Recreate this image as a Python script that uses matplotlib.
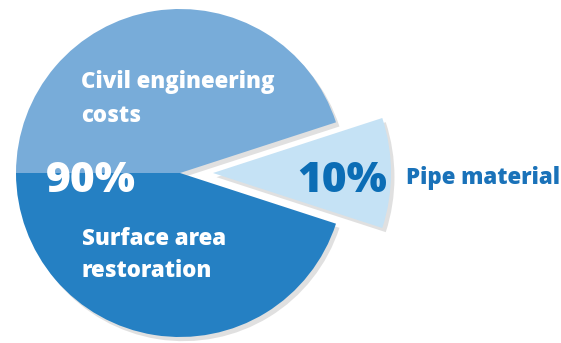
import matplotlib
matplotlib.use("Agg")
import matplotlib.pyplot as plt
import matplotlib.patheffects as pe

# ---- data ----
categories = ["Civil engineering costs", "Surface area restoration", "Pipe material"]
shares = [45, 45, 10]
main_pct_label = "90%"
pipe_pct_label = "10%"
inner_labels = ["Civil engineering\ncosts", "Surface area\nrestoration"]
pipe_label = "Pipe material"

# ---- style ----
W, H = 561, 343
colors = ["#78acd9", "#2580c3", "#c5e2f5"]
font = ["Open Sans", "DejaVu Sans"]

fig = plt.figure(figsize=(W / 100, H / 100), dpi=100)
ax = fig.add_axes([0, 0, 1, 1])
ax.set_xlim(0, W)
ax.set_ylim(0, H)
ax.axis("off")

R = 164
cx, cy = 180, H - 173
wedges, _ = ax.pie(shares, colors=colors, startangle=18, counterclock=True,
                   explode=[0, 0, 33], center=(cx, cy), radius=R,
                   wedgeprops=dict(linewidth=0))
wedges[2].set_radius(178)
for w in wedges:
    w.set_path_effects([pe.SimplePatchShadow(offset=(2.5, -3), shadow_rgbFace="#999999", alpha=0.3),
                        pe.Normal()])
ax.set_xlim(0, W)
ax.set_ylim(0, H)
ax.set_aspect("auto")

def lines(text, x, y0_px, step, **kw):
    for i, ln in enumerate(text.split("\n")):
        ax.text(x, H - (y0_px + i * step), ln, va="baseline", ha="left", family=font, **kw)

lines(inner_labels[0], 81, 88, 34, color="white", fontsize=16, fontweight="heavy")
lines(inner_labels[1], 82, 245, 32, color="white", fontsize=16, fontweight="heavy")

ax.text(46, H - 192, main_pct_label, va="baseline", ha="left", family=font,
        color="white", fontsize=30.5, fontweight="heavy")
ax.text(297, H - 192, pipe_pct_label, va="baseline", ha="left", family=font,
        color="#0b6db5", fontsize=30.5, fontweight="heavy")
ax.text(406, H - 184, pipe_label, va="baseline", ha="left", family=font,
        color="#1a72b9", fontsize=16, fontweight="heavy")

fig.savefig("out.png", dpi=100)
